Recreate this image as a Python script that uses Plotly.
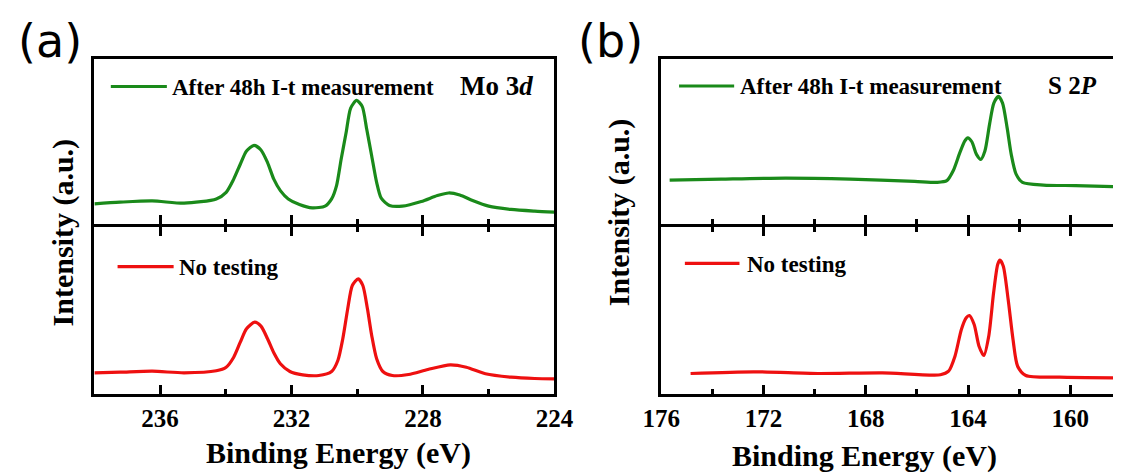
import plotly.graph_objects as go

# ---------------- data ----------------
mo_after_E = [238.0, 237.22, 236.24, 235.27, 234.29, 233.99, 233.76, 233.56, 233.37, 233.14,
              232.93, 232.73, 232.54, 232.34, 232.10, 231.76, 231.37, 230.98, 230.78, 230.63,
              230.49, 230.34, 230.20, 230.02, 229.85, 229.71, 229.56, 229.41, 229.27, 229.02,
              228.63, 228.05, 227.56, 227.22, 226.88, 226.49, 226.00, 225.32, 224.6, 224.0]
mo_after_I = [18.3, 20.0, 21.3, 19.0, 23.3, 30.0, 43.3, 58.3, 71.7, 77.3,
              72.7, 60.0, 43.3, 31.7, 23.3, 17.7, 14.3, 16.0, 23.3, 36.7,
              63.3, 90.0, 115.0, 122.7, 116.7, 93.3, 66.7, 40.0, 24.0, 16.7,
              16.0, 20.7, 26.7, 29.3, 27.3, 21.7, 16.0, 12.7, 11.0, 10.0]

mo_fresh_E = [238.0, 237.22, 236.24, 235.27, 234.29, 233.99, 233.76, 233.56, 233.37, 233.12,
              232.93, 232.73, 232.54, 232.34, 232.05, 231.66, 231.17, 230.78, 230.59, 230.44,
              230.29, 230.15, 229.97, 229.83, 229.69, 229.56, 229.41, 229.22, 228.93, 228.44,
              227.85, 227.17, 226.68, 226.10, 225.32, 224.6, 224.0]
mo_fresh_I = [20.7, 21.3, 22.3, 20.7, 22.7, 26.3, 36.3, 51.3, 64.7, 71.3,
              67.3, 54.7, 40.7, 29.7, 22.0, 18.7, 18.0, 22.0, 33.0, 54.7,
              84.7, 108.0, 114.7, 108.0, 84.7, 58.0, 34.7, 22.0, 18.0, 19.0,
              24.0, 28.7, 26.3, 19.7, 16.3, 15.0, 14.7]

s_after_E = [175.67, 173.65, 171.13, 168.61, 166.09, 165.21, 164.83, 164.58, 164.32, 164.13,
             164.01, 163.85, 163.67, 163.50, 163.34, 163.16, 162.99, 162.81, 162.65, 162.47,
             162.31, 162.12, 161.87, 161.05, 159.79, 158.33]
s_after_I = [42.3, 43.3, 44.3, 43.3, 41.0, 40.0, 41.7, 51.7, 70.0, 81.7,
             85.0, 81.0, 68.3, 63.3, 71.7, 98.3, 120.0, 126.7, 120.0, 95.0,
             68.3, 48.3, 40.0, 37.3, 36.7, 35.7]

s_fresh_E = [174.85, 172.39, 169.87, 167.35, 165.08, 164.76, 164.51, 164.26, 164.07, 163.95,
             163.76, 163.57, 163.38, 163.19, 163.00, 162.84, 162.75, 162.62, 162.43, 162.24,
             162.06, 161.74, 160.42, 158.33]
s_fresh_I = [20.0, 21.7, 20.0, 20.7, 18.7, 22.3, 37.3, 64.0, 75.7, 78.0,
             69.0, 47.3, 38.0, 57.3, 100.7, 129.0, 133.3, 127.3, 94.0, 54.0,
             27.3, 18.0, 16.3, 15.7]

name_after = "After 48h I-t measurement"
name_fresh = "No testing"
panel_labels = ["(a)", "(b)"]
core_labels = ["<b>Mo 3<i>d</i></b>", "<b>S 2<i>P</i></b>"]
x_title = "Binding Energy (eV)"
y_title = "Intensity (a.u.)"

# ---------------- style ----------------
W, H = 1132, 475
GREEN = "#1a8a1a"
RED = "#ee1010"
SERIF = "Liberation Serif"
LW = 3.2
AXW = 3


def px(x):
    return x / W


def py(y):
    return 1 - y / H


fig = go.Figure()
for xs, ys, col, xa, ya in [(mo_after_E, mo_after_I, GREEN, "x", "y"),
                            (mo_fresh_E, mo_fresh_I, RED, "x2", "y2"),
                            (s_after_E, s_after_I, GREEN, "x3", "y3"),
                            (s_fresh_E, s_fresh_I, RED, "x4", "y4")]:
    fig.add_trace(go.Scatter(x=xs, y=ys, mode="lines",
                             line=dict(color=col, width=LW, shape="spline", smoothing=0.7),
                             xaxis=xa, yaxis=ya, showlegend=False, hoverinfo="skip"))

# divider: top panel bottom line and bottom panel top mirror line overlap
dom_a = [px(78), px(554)]
dom_b = [px(664.5), 1.0]
dom_top = [py(223.5), py(59.3)]
dom_bot = [py(393.5), py(226.5)]

tickfont = dict(family=SERIF, size=25, color="black", weight="bold")


def xax(domain, rng, anchor, labels, mirror):
    return dict(domain=domain, range=rng, anchor=anchor, showline=True, linecolor="black", linewidth=AXW,
                mirror=mirror, ticks="inside", ticklen=9, tickwidth=3, tickcolor="black",
                tick0=160, dtick=4, showticklabels=labels, tickfont=tickfont,
                minor=dict(ticks="inside", ticklen=5, tickwidth=3, tickcolor="black", dtick=2, showgrid=False),
                showgrid=False, zeroline=False, fixedrange=True)


def yax(domain, rng, anchor, mirror):
    return dict(domain=domain, range=rng, anchor=anchor, showline=True, linecolor="black", linewidth=AXW,
                mirror=mirror, ticks="", showticklabels=False, showgrid=False, zeroline=False, fixedrange=True)


fig.update_layout(
    width=W, height=H, margin=dict(l=0, r=0, t=0, b=0),
    paper_bgcolor="white", plot_bgcolor="white",
    xaxis=xax(dom_a, [238, 224], "y", False, True),
    yaxis=yax(dom_top, [-1.5, 164.2], "x", True),
    xaxis2=xax(dom_a, [238, 224], "y2", True, "ticks"),
    yaxis2=yax(dom_bot, [0, 167], "x2", True),
    xaxis3=xax(dom_b, [176, 158.33], "y3", False, True),
    yaxis3=yax(dom_top, [-1.5, 164.2], "x3", False),
    xaxis4=xax(dom_b, [176, 158.33], "y4", True, "ticks"),
    yaxis4=yax(dom_bot, [0, 167], "x4", False),
)

# legend keys (decorative sample lines)
for (x0, x1, y, c) in [(95, 153, 86.5, GREEN), (102, 160, 266.7, RED), (683, 740, 86, GREEN), (689, 745.5, 263.3, RED)]:
    fig.add_shape(type="line", xref="paper", yref="paper", x0=px(x0), x1=px(x1), y0=py(y), y1=py(y),
                  line=dict(color=c, width=LW))

ann_font = dict(family=SERIF, size=23, color="black", weight="bold")
anns = [
    dict(text=name_after, x=px(156), y=py(87.5), xanchor="left", font=ann_font),
    dict(text=name_fresh, x=px(164), y=py(267), xanchor="left", font=ann_font),
    dict(text=name_after, x=px(744), y=py(87), xanchor="left", font=ann_font),
    dict(text=name_fresh, x=px(751), y=py(264), xanchor="left", font=ann_font),
    dict(text=core_labels[0], x=px(494), y=py(86), xanchor="center", font=dict(family=SERIF, size=27, color="black")),
    dict(text=core_labels[1], x=px(1090), y=py(85), xanchor="center", font=dict(family=SERIF, size=25, color="black")),
    dict(text=panel_labels[0], x=px(32), y=py(41), xanchor="center", font=dict(family="DejaVu Sans", size=46, color="black")),
    dict(text=panel_labels[1], x=px(612), y=py(41), xanchor="center", font=dict(family="DejaVu Sans", size=46, color="black")),
    dict(text=x_title, x=px(331), y=py(453), xanchor="center", font=dict(family=SERIF, size=30, color="black", weight="bold")),
    dict(text=x_title, x=px(875), y=py(456), xanchor="center", font=dict(family=SERIF, size=30, color="black", weight="bold")),
    dict(text=y_title, x=px(46), y=py(232), xanchor="center", textangle=-90, font=dict(family=SERIF, size=30, color="black", weight="bold")),
    dict(text=y_title, x=px(621), y=py(212), xanchor="center", textangle=-90, font=dict(family=SERIF, size=30, color="black", weight="bold")),
]
for a in anns:
    fig.add_annotation(xref="paper", yref="paper", yanchor="middle", showarrow=False, **a)

# remove the default 8px page margin so the 1132x475 figure fills the window exactly
fig.write_html("out.html", config={"displayModeBar": False, "staticPlot": True},
               post_script="document.body.style.margin='0';document.body.style.overflow='hidden';")
